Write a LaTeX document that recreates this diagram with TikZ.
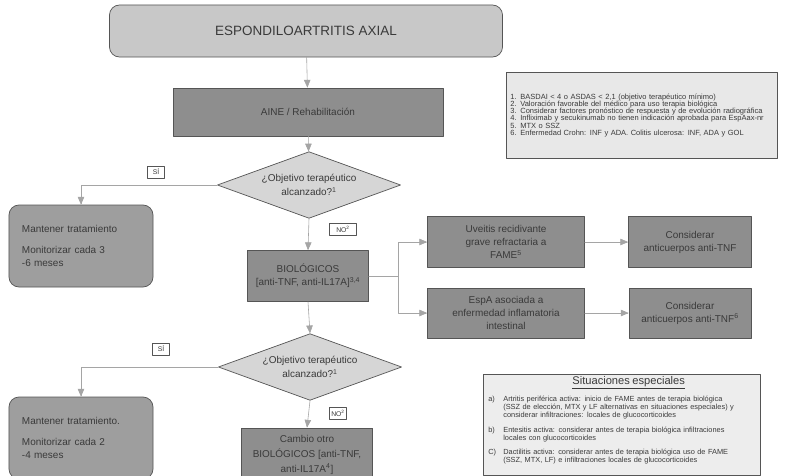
\documentclass[tikz,border=0pt]{standalone}
\usepackage{fontspec}
\setmainfont{Liberation Sans}
\usepackage{pgf,tikz}
\usetikzlibrary{arrows,shapes.geometric}

\definecolor{titlefill}{HTML}{C8C8C8}
\definecolor{darkfill}{HTML}{8E8E8E}
\definecolor{diafill}{HTML}{D6D6D6}
\definecolor{mantfill}{HTML}{9E9E9E}
\definecolor{notefill}{HTML}{E8E8E8}
\definecolor{situfill}{HTML}{EDEDED}
\definecolor{boxline}{HTML}{555555}
\definecolor{linegray}{HTML}{A5A5A5}
\definecolor{txtgray}{HTML}{3A3A3A}

\begin{document}
\begin{tikzpicture}[line cap=round,line join=round,>=triangle 45,x=0.03cm,y=-0.03cm,
    txt/.style={text=txtgray,font=\fontsize{8.5}{11}\selectfont,align=center},
    darkbox/.style={txt,draw=boxline,line width=0.6pt,fill=darkfill,inner sep=0pt},
    decision/.style={txt,diamond,aspect=2.75,draw=boxline,line width=0.6pt,fill=diafill,
      inner sep=0pt,minimum width=5.5cm,minimum height=2cm,font=\fontsize{8.5}{12.5}\selectfont},
    mantbox/.style={txt,rounded corners=0.3cm,draw=boxline,line width=0.6pt,fill=mantfill,
      align=left,text width=3.54cm,inner xsep=0.39cm,minimum width=4.32cm,minimum height=2.46cm},
    answer/.style={txt,draw=boxline,line width=0.4pt,fill=white,inner sep=0pt,
      font=\fontsize{5.8}{7}\selectfont,minimum height=0.36cm},
    notebox/.style={txt,draw=boxline,line width=0.6pt,align=left,font=\fontsize{6.4}{6.2}\selectfont},
    link/.style={draw=linegray,line width=0.5pt,->}]
      \useasboundingbox (0,0) rectangle (787,475);
      \fill[white] (0,0) rectangle (787,475);
      \clip (0,0) rectangle (787,475);

      \node[txt,rounded corners=0.3cm,draw=boxline,line width=0.6pt,fill=titlefill,
        minimum width=11.79cm,minimum height=1.56cm,font=\fontsize{11.5}{13}\selectfont]
        (title) at (306,31) {ESPONDILOARTRITIS AXIAL};
      \node[darkbox,minimum width=8.1cm,minimum height=1.44cm] (aine) at (308,112) {AINE / Rehabilitación};
      \node[decision] (dia1) at (309,185) {¿Objetivo terapéutico\\alcanzado?\textsuperscript{1}};
      \node[mantbox] (mant1) at (81,246) {Mantener tratamiento\\[7pt]Monitorizar cada 3\\-6 meses};
      \node[darkbox,minimum width=3.63cm,minimum height=1.53cm] (bio) at (308,276)
        {BIOLÓGICOS\\ {[}anti-TNF, anti-IL17A{]}\textsuperscript{3,4}};
      \node[darkbox,minimum width=4.71cm,minimum height=1.53cm] (uve) at (506,242)
        {Uveitis recidivante\\grave refractaria a\\FAME\textsuperscript{5}};
      \node[darkbox,minimum width=4.71cm,minimum height=1.5cm] (espa) at (506,313)
        {EspA asociada a\\enfermedad inflamatoria\\intestinal};
      \node[darkbox,minimum width=3.69cm,minimum height=1.53cm] (cons1) at (690,242)
        {Considerar\\anticuerpos anti-TNF};
      \node[darkbox,minimum width=3.66cm,minimum height=1.5cm] (cons2) at (690,313)
        {Considerar\\anticuerpos anti-TNF\textsuperscript{6}};
      \node[decision] (dia2) at (310,367) {¿Objetivo terapéutico\\alcanzado?\textsuperscript{1}};
      \node[mantbox] (mant2) at (81,438) {Mantener tratamiento.\\[7pt]Monitorizar cada 2\\-4 meses};
      \node[darkbox,minimum width=3.93cm,minimum height=1.62cm,font=\fontsize{8.5}{12.5}\selectfont]
        (cambio) at (307,455) {Cambio otro\\BIOLÓGICOS {[}anti-TNF,\\anti-IL17A\textsuperscript{4}{]}};

      \node[answer,minimum width=0.5cm] (si1) at (156,172) {SÍ};
      \node[answer,minimum width=0.81cm] (no1) at (343,229) {NO\textsuperscript{2}};
      \node[answer,minimum width=0.5cm] (si2) at (161,349) {SÍ};
      \node[answer,minimum width=0.5cm] (no2) at (338,413) {NO\textsuperscript{2}};

      \node[notebox,fill=notefill,anchor=north west,text width=7.9cm,inner xsep=0.12cm,
        minimum height=2.58cm] (notes) at (506,72)
        {1. BASDAI {\textless} 4 o ASDAS {\textless} 2,1 (objetivo terapéutico mínimo)\\
         2. Valoración favorable del médico para uso terapia biológica\\
         3. Considerar factores pronóstico de respuesta y de evolución radiográfica\\
         4. Infliximab y secukinumab no tienen indicación aprobada para EspAax-nr\\
         5. MTX o SSZ\\
         6. Enfermedad Crohn: INF y ADA. Colitis ulcerosa: INF, ADA y GOL};

      \node[notebox,fill=situfill,anchor=north west,text width=8.0cm,inner xsep=0.15cm,
        inner ysep=2pt,font=\fontsize{6.3}{6.8}\selectfont] (situ) at (483,374)
        {{\fontsize{9.5}{11}\selectfont\makebox[8cm]{\hspace{0.42cm}\underline{Situaciones especiales}}\par}
         \vspace{5pt}
         \makebox[0.45cm][l]{a)}Artritis periférica activa: inicio de FAME antes de terapia biológica\\
         \hspace*{0.45cm}(SSZ de elección, MTX y LF alternativas en situaciones especiales) y\\
         \hspace*{0.45cm}considerar infiltraciones: locales de glucocorticoides\par
         \vspace{5.5pt}
         \makebox[0.45cm][l]{b)}Entesitis activa: considerar antes de terapia biológica infiltraciones\\
         \hspace*{0.45cm}locales con glucocorticoides\par
         \vspace{5.5pt}
         \makebox[0.45cm][l]{C)}Dactilitis activa: considerar antes de terapia biológica uso de FAME\\
         \hspace*{0.45cm}(SSZ, MTX, LF) e infiltraciones locales de glucocorticoides\par
         \vspace{8pt}};

      \coordinate (fork) at (398,276);
      \draw[link] (title) -- (aine);
      \draw[link] (aine) -- (dia1);
      \draw[link] (dia1.west) -| (mant1.north);
      \draw[link] (dia1.south) -- (bio.north);
      \draw[link,-] (bio.east) -- (fork);
      \draw[link] (fork) |- (uve.west);
      \draw[link] (fork) |- (espa.west);
      \draw[link] (uve) -- (cons1);
      \draw[link] (espa) -- (cons2);
      \draw[link] (bio.south) -- (dia2.north);
      \draw[link] (dia2.west) -| (mant2.north);
      \draw[link] (dia2.south) -- (cambio.north);
    \end{tikzpicture}
\end{document}
